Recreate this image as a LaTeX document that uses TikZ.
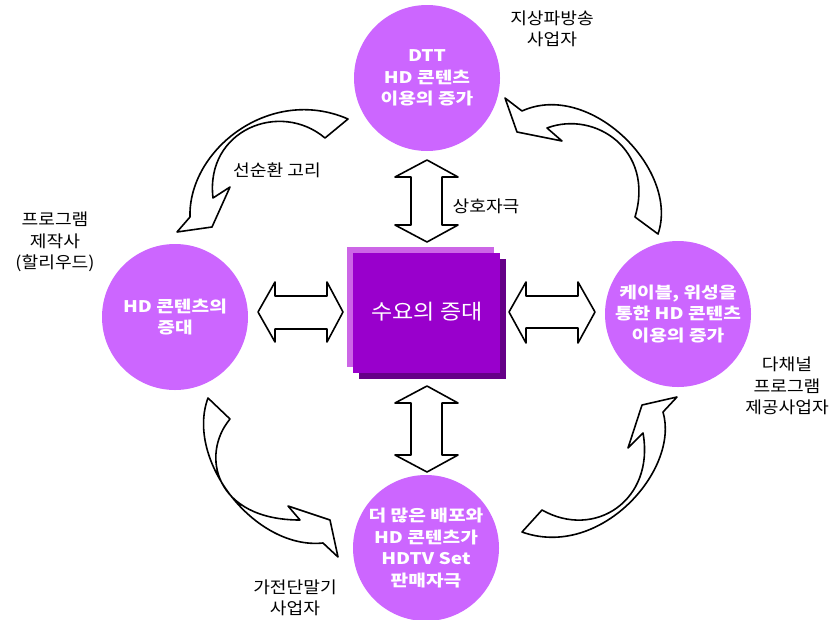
\documentclass[tikz,border=0pt]{standalone}
\usepackage{fontspec}
\setmainfont{Noto Sans CJK KR}[FakeStretch=1.1]
\newfontfamily\wfont{Noto Sans CJK KR}[FakeStretch=1.2]
\definecolor{bubble}{RGB}{204,102,255}
\definecolor{sqmain}{RGB}{153,0,204}
\definecolor{sqlight}{RGB}{204,102,230}
\definecolor{sqdark}{RGB}{102,0,136}
\tikzset{
  bub/.style={circle, fill=bubble, draw=none, minimum size=146pt, inner sep=0pt,
    text=white, font=\wfont\fontsize{16}{21.5}\selectfont\bfseries, align=center},
  lab/.style={font=\fontsize{16.5}{21.5}\selectfont, align=center, text=black, inner sep=0pt},
  blk/.style={draw=black, line width=1.6pt, fill=white, line join=round},
}
\begin{document}
\begin{tikzpicture}[x=1pt,y=-1pt]
\useasboundingbox[fill=white] (0,0) rectangle (835,619);

% circles
\node[bub] (ctop) at (427,78) {DTT\\HD 콘텐츠\\이용의 증가};
\node[bub] (cleft) at (175,317) {HD 콘텐츠의\\증대};
\node[bub] (cright) at (678,314) {케이블, 위성을\\통한 HD 콘텐츠\\이용의 증가};
\node[bub] (cbot) at (426,548) {더 많은 배포와\\HD 콘텐츠가\\HDTV Set\\판매자극};

% central square
\fill[sqlight] (347,247) rectangle (494,367);
\fill[sqdark] (359,259) rectangle (506,379);
\fill[sqmain] (353,253) rectangle (500,373);
\node[text=white, font=\fontsize{21}{24}\selectfont, inner sep=0pt] (center) at (427,312) {수요의 증대};

% straight double arrows
\draw[blk] (258,312) -- (275,282) -- (275,296) -- (327,296) -- (327,282) -- (343,312)
  -- (327,342) -- (327,329) -- (275,329) -- (275,342) -- cycle;
\draw[blk] (509,312) -- (526,282) -- (526,296) -- (578,296) -- (578,282) -- (595,312)
  -- (578,343) -- (578,328) -- (526,328) -- (526,343) -- cycle;
\draw[blk] (427,160) -- (458,177) -- (442,177) -- (442,225) -- (458,225) -- (427,242)
  -- (395,225) -- (411,225) -- (411,177) -- (395,177) -- cycle;
\draw[blk] (427,386) -- (458,403) -- (442,403) -- (442,455) -- (458,455) -- (427,472)
  -- (395,455) -- (411,455) -- (411,403) -- (395,403) -- cycle;

% curved arrows
\draw[blk] (348,119) -- (325,138) .. controls (280,100) and (205,130) .. (213,198)
  -- (230,187) -- (212,227) -- (177,232) -- (190,217)
  .. controls (188,150) and (270,85) .. (348,119) -- cycle;
\draw[blk] (505,98) -- (517,132) -- (562,141) -- (547,128)
  .. controls (595,110) and (655,150) .. (635,217) -- (658,234)
  .. controls (680,170) and (590,80) .. (522,111) -- cycle;
\draw[blk] (208,398) -- (230,419) .. controls (200,455) and (215,520) .. (300,520)
  -- (288,506) -- (330,520) -- (338,557) -- (323,543)
  .. controls (255,550) and (185,460) .. (208,398) -- cycle;
\draw[blk] (542,510) .. controls (595,540) and (655,500) .. (643,433)
  -- (628,448) -- (642,405) -- (677,397) -- (663,412)
  .. controls (680,470) and (600,560) .. (522,532) -- cycle;

% labels
\node[lab] (l1) at (552,29) {지상파방송\\사업자};
\node[lab] (l2) at (55,242) {프로그램\\제작사\\(할리우드)};
\node[lab] (l3) at (787,386) {다채널\\프로그램\\제공사업자};
\node[lab] (l4) at (295,598) {가전단말기\\사업자};
\node[lab] (l5) at (277,170) {선순환 고리};
\node[lab] (l6) at (486,206) {상호자극};
\end{tikzpicture}
\end{document}
